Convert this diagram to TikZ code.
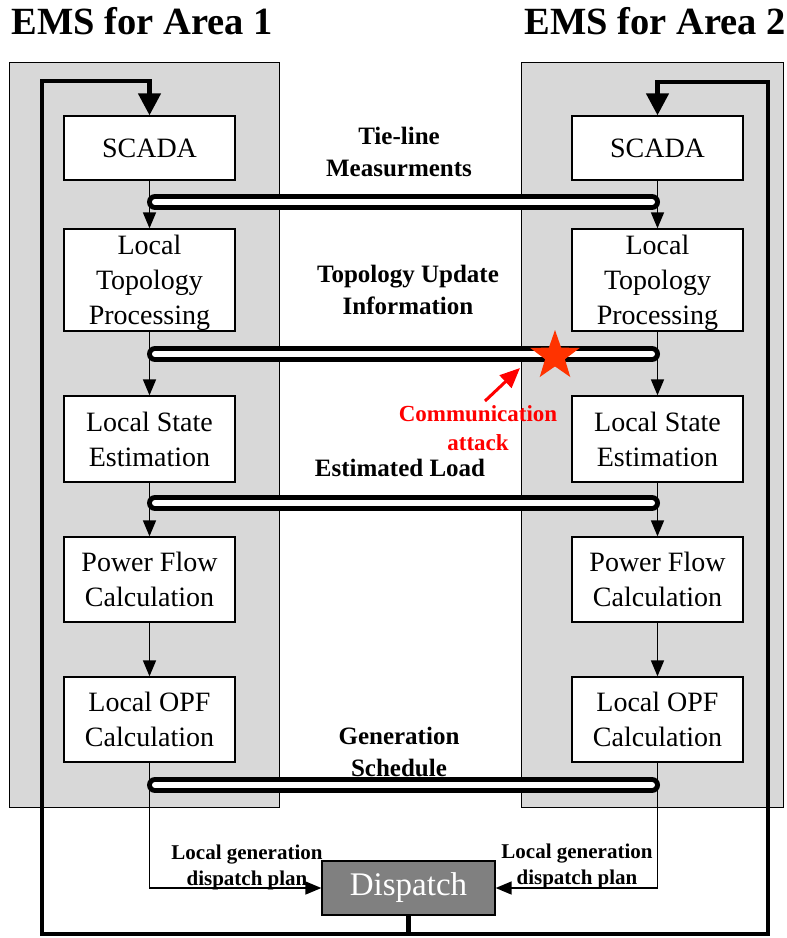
\documentclass[tikz,border=0pt]{standalone}
\usepackage{fontspec}
\setmainfont{Liberation Serif}
\usetikzlibrary{arrows.meta,shapes.geometric}

\definecolor{panelgray}{RGB}{216,216,216}
\definecolor{dispgray}{RGB}{128,128,128}
\definecolor{attackred}{RGB}{255,0,0}
\definecolor{starred}{RGB}{255,51,0}

\tikzset{
  panel/.style={draw=black, line width=1pt, fill=panelgray},
  stage/.style={draw=black, line width=1.3pt, fill=white, minimum width=171pt,
    align=center, inner sep=0pt, font=\fontsize{28}{35}\selectfont},
  flow/.style={line width=1.6pt, -{Triangle[length=16pt,width=13pt]}},
  loop/.style={line width=4.5pt, line join=miter, -{Triangle[length=22pt,width=22pt]}},
  busouter/.style={line width=16pt, line cap=round, black},
  businner/.style={line width=6pt, line cap=round, white},
  buslabel/.style={align=center, font=\bfseries\fontsize{25}{32}\selectfont},
  planlabel/.style={align=center, font=\bfseries\fontsize{21}{26}\selectfont},
  title/.style={anchor=base, font=\bfseries\fontsize{38.5}{40}\selectfont},
}

\begin{document}
\begin{tikzpicture}[x=1pt, y=-1pt]
\useasboundingbox (0,0) rectangle (787,938);

% area panels
\path[panel] (9,62) rectangle (279,807);
\path[panel] (521,62) rectangle (783,807);

% titles
\node[title] (ttl1) at (142,34) {EMS for Area 1};
\node[title] (ttl2) at (655,34) {EMS for Area 2};

% EMS stages, area 1
\node[stage, minimum height=64pt] (l1) at (149.5,148) {SCADA};
\node[stage, minimum height=102pt] (l2) at (149.5,280)
  {\rule{0pt}{25.5pt}Local\\Topology\\Processing};
\node[stage, minimum height=86pt] (l3) at (149.5,439) {Local State\\Estimation};
\node[stage, minimum height=85pt] (l4) at (149.5,579.5) {Power Flow\\Calculation};
\node[stage, minimum height=85pt] (l5) at (149.5,719.5) {Local OPF\\Calculation};

% EMS stages, area 2
\node[stage, minimum height=64pt] (r1) at (657.5,148) {SCADA};
\node[stage, minimum height=102pt] (r2) at (657.5,280)
  {\rule{0pt}{25.5pt}Local\\Topology\\Processing};
\node[stage, minimum height=86pt] (r3) at (657.5,439) {Local State\\Estimation};
\node[stage, minimum height=85pt] (r4) at (657.5,579.5) {Power Flow\\Calculation};
\node[stage, minimum height=85pt] (r5) at (657.5,719.5) {Local OPF\\Calculation};

% dispatch centre
\node[draw=black, line width=1.3pt, fill=dispgray, text=white, minimum width=173pt,
  minimum height=54pt, inner sep=0pt, font=\fontsize{33}{36}\selectfont]
  (disp) at (408.5,888) {\raisebox{-3pt}{Dispatch}};

% tie-line exchange buses
\coordinate (b1L) at (155,202); \coordinate (b1R) at (652,202);
\coordinate (b2L) at (155,354); \coordinate (b2R) at (652,354);
\coordinate (b3L) at (155,503); \coordinate (b3R) at (652,503);
\coordinate (b4L) at (155,785); \coordinate (b4R) at (652,785);
\foreach \b in {1,2,3,4}{
  \draw[busouter] (b\b L) -- (b\b R);
  \draw[businner] (b\b L) -- (b\b R);
}

% stage-to-stage flow
\foreach \s/\t in {1/2,2/3,3/4,4/5}{
  \draw[flow] (l\s.south) -- (l\t.north);
  \draw[flow] (r\s.south) -- (r\t.north);
}

% local plans to dispatch
\draw[flow] (l5.south) |- (disp.west);
\draw[flow] (r5.south) |- (disp.east);

% dispatch feedback loops
\coordinate (botL) at (42,934); \coordinate (topL) at (42,81);
\coordinate (botR) at (768,934); \coordinate (topR) at (768,82);
\draw[loop] (disp.south) -- (disp.south |- botL) -- (botL) -- (topL) -| (l1.north);
\draw[loop] (disp.south |- botR) -- (botR) -- (topR) -| (r1.north);

% bus labels
\node[buslabel] (lab1) at (399,152) {Tie-line\\Measurments};
\node[buslabel] (lab2) at (408,290) {Topology Update\\Information};
\node[buslabel] (lab3) at (400,468) {Estimated Load};
\node[buslabel] (lab4) at (399,752) {Generation\\Schedule};

\node[planlabel] (pl1) at (247,867) {Local generation\\dispatch plan};
\node[planlabel] (pl2) at (577,866) {Local generation\\dispatch plan};

% communication attack
\node[star, star points=5, star point ratio=2.5, fill=starred, minimum size=52pt,
  inner sep=0pt] (atk) at (555,356) {};
\node[align=center, text=attackred, font=\bfseries\fontsize{23}{29}\selectfont]
  (atklab) at (478,428) {Communication\\attack};
\coordinate (atktail) at (485,401);
\coordinate (atktip) at (520,368);
\draw[attackred, line width=3pt, -{Triangle[length=20pt,width=17pt]}]
  (atktail) -- (atktip);
\end{tikzpicture}
\end{document}
